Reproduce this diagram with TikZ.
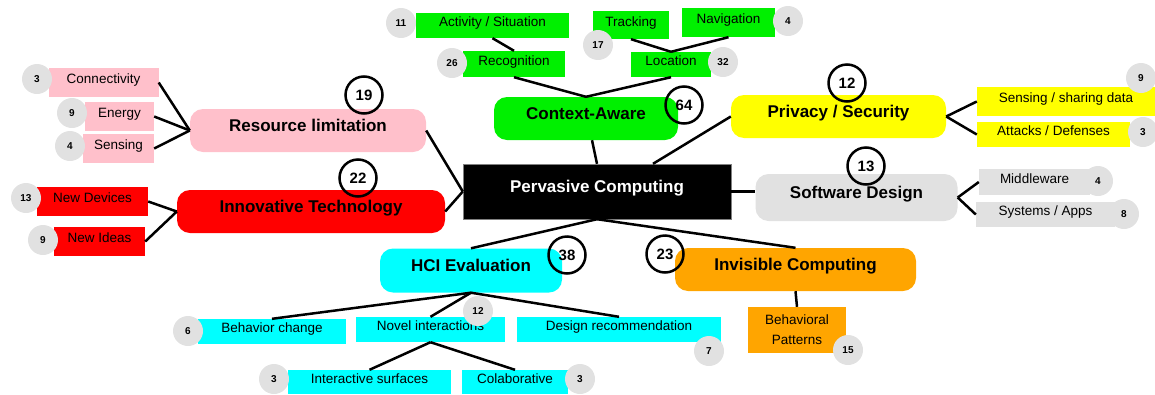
\documentclass[tikz,border=0pt]{standalone}
\usepackage{fontspec}
\setmainfont{Liberation Sans}
\usepackage{tikz}
\usetikzlibrary{calc}

\definecolor{pinkc}{RGB}{255,192,203}
\definecolor{redc}{RGB}{255,0,0}
\definecolor{greenc}{RGB}{0,240,0}
\definecolor{yellowc}{RGB}{255,255,0}
\definecolor{greyc}{RGB}{225,225,225}
\definecolor{cyanc}{RGB}{0,255,255}
\definecolor{orangec}{RGB}{255,165,0}

\tikzset{
  topic/.style={rounded corners=13pt, inner sep=0pt, text height=12pt, text depth=10pt, font=\fontsize{17}{20}\selectfont\bfseries},
  leaf/.style={inner sep=0pt, text height=10pt, text depth=8pt, font=\fontsize{13.5}{16}\selectfont},
  cnt/.style={circle, fill=greyc, minimum size=30pt, inner sep=0pt, font=\fontsize{10}{12}\selectfont\bfseries},
  badge/.style={circle, draw, line width=2.5pt, minimum size=37pt, inner sep=0pt, font=\fontsize{15}{17}\selectfont\bfseries},
  link/.style={line width=2.5pt}
}

\begin{document}
\begin{tikzpicture}[x=1pt,y=-1pt]
	\useasboundingbox (0,0) rectangle (1155,394);

	% main topics
	\node (pc)[fill=black, draw=gray, text=white, inner sep=0pt, text height=12pt, text depth=10pt, minimum width=268pt, minimum height=55pt, font=\fontsize{17}{20}\selectfont\bfseries] at (597,191.5) {Pervasive Computing};
	\node (res)[topic, fill=pinkc, minimum width=236pt, minimum height=43pt] at (308,130.5) {Resource limitation};
	\node (innov)[topic, fill=redc, minimum width=268pt, minimum height=43pt] at (311,211.5) {Innovative Technology};
	\node (ctx)[topic, fill=greenc, minimum width=184pt, minimum height=43pt] at (586,118.5) {Context-Aware};
	\node (priv)[topic, fill=yellowc, minimum width=215pt, minimum height=43pt] at (838.5,116.5) {Privacy / Security};
	\node (sw)[topic, fill=greyc, minimum width=202pt, minimum height=47pt] at (856.5,197.5) {Software Design};
	\node (hci)[topic, fill=cyanc, minimum width=182pt, minimum height=44pt] at (471,270.5) {HCI Evaluation};
	\node (inv)[topic, fill=orangec, minimum width=241pt, minimum height=43pt] at (795.5,269.5) {Invisible Computing};

	% sub topics
	\node (conn)[leaf, fill=pinkc, minimum width=110pt, minimum height=29pt] at (103.5,82.5) {Connectivity};
	\node (ener)[leaf, fill=pinkc, minimum width=69pt, minimum height=29pt] at (119.5,116.5) {Energy};
	\node (sens)[leaf, fill=pinkc, minimum width=71pt, minimum height=29pt] at (118.5,148.5) {Sensing};
	\node (ndev)[leaf, fill=redc, minimum width=111pt, minimum height=29pt] at (92.5,201.5) {New Devices};
	\node (nid)[leaf, fill=redc, minimum width=91pt, minimum height=29pt] at (99.5,241.5) {New Ideas};

	\node (act)[leaf, fill=greenc, minimum width=153pt, minimum height=25pt] at (492.5,25.5) {Activity / Situation};
	\node (rec)[leaf, fill=greenc, minimum width=102pt, minimum height=26pt] at (514,64) {Recognition};
	\node (trk)[leaf, fill=greenc, minimum width=76pt, minimum height=28pt] at (631,25) {Tracking};
	\node (nav)[leaf, fill=greenc, minimum width=93pt, minimum height=29pt] at (728.5,22.5) {Navigation};
	\node (loc)[leaf, fill=greenc, minimum width=80pt, minimum height=25pt] at (671,64.5) {Location};

	\node (ssd)[leaf, fill=yellowc, minimum width=178pt, minimum height=29pt] at (1066,101.5) {Sensing / sharing data};
	\node (att)[leaf, fill=yellowc, minimum width=153pt, minimum height=25pt] at (1053.5,134.5) {Attacks / Defenses};
	\node (mid)[leaf, fill=greyc, minimum width=111pt, minimum height=26pt] at (1034.5,182) {Middleware};
	\node (sys)[leaf, fill=greyc, minimum width=139pt, minimum height=25pt] at (1045.5,214.5) {Systems / Apps};

	\node (beh)[leaf, fill=cyanc, minimum width=148pt, minimum height=25pt] at (272,331.5) {Behavior change};
	\node (nov)[leaf, fill=cyanc, minimum width=149pt, minimum height=25pt] at (430.5,329.5) {Novel interactions};
	\node (des)[leaf, fill=cyanc, minimum width=204pt, minimum height=25pt] at (619,329.5) {Design recommendation};
	\node (ints)[leaf, fill=cyanc, minimum width=163pt, minimum height=24pt] at (369.5,382) {Interactive surfaces};
	\node (col)[leaf, fill=cyanc, minimum width=106pt, minimum height=24pt] at (515,382) {Colaborative};
	\node (bp)[fill=orangec, inner sep=0pt, minimum width=98pt, minimum height=46pt, align=center, font=\fontsize{13.5}{16}\selectfont] at (797,330) {Behavioral\\[4pt]Patterns};

	% connectors
	\draw [link] (conn.east) -- (res.west);
	\draw [link] (ener.east) -- (res.west);
	\draw [link] (sens.east) -- (res.west);
	\draw [link] (ndev.east) -- (innov.west);
	\draw [link] (nid.east) -- (innov.west);
	\draw [link] (res.east) -- (pc.west);
	\draw [link] (innov.east) -- (pc.west);

	\draw [link] (act.south) -- (rec.north);
	\draw [link] (rec.south) -- (ctx.north);
	\draw [link] (trk.south) -- (loc.north);
	\draw [link] (nav.south) -- (loc.north);
	\draw [link] (loc.south) -- (ctx.north);
	\draw [link] ([xshift=6pt]ctx.south) -- (pc.north);

	\draw [link] (priv.west) -- ([xshift=56pt]pc.north);
	\draw [link] (priv.east) -- (ssd.west);
	\draw [link] (priv.east) -- (att.west);
	\draw [link] (pc.east) -- (pc.east -| sw.west);
	\draw [link] (sw.east) -- (mid.west);
	\draw [link] (sw.east) -- (sys.west);

	\draw [link] (pc.south) -- (hci.north);
	\draw [link] (pc.south) -- (inv.north);
	\draw [link] (inv.south) -- (bp.north);
	\draw [link] (hci.south) -- (beh.north);
	\draw [link] (hci.south) -- (nov.north);
	\draw [link] (hci.south) -- (des.north);
	\draw [link] (nov.south) -- (ints.north);
	\draw [link] (nov.south) -- (col.north);

	% counts
	\node (c1)[cnt] at (37,79) {3};
	\node (c2)[cnt] at (72,113) {9};
	\node (c3)[cnt] at (70,146) {4};
	\node (c4)[cnt] at (26,198) {13};
	\node (c5)[cnt] at (43,240) {9};
	\node (c6)[cnt] at (401,23) {11};
	\node (c7)[cnt] at (452,63) {26};
	\node (c8)[cnt] at (598,45) {17};
	\node (c9)[cnt] at (788,21) {4};
	\node (c10)[cnt] at (723,62) {32};
	\node (c11)[cnt] at (1141,78) {9};
	\node (c12)[cnt] at (1143,132) {3};
	\node (c13)[cnt] at (1098,181) {4};
	\node (c14)[cnt] at (1124,214) {8};
	\node (c15)[cnt] at (188,331) {6};
	\node (c16)[cnt] at (478,311) {12};
	\node (c17)[cnt] at (709,351) {7};
	\node (c18)[cnt] at (274,379) {3};
	\node (c19)[cnt] at (580,379) {3};
	\node (c20)[cnt] at (848,350) {15};

	\node (b1)[badge] at (364,95) {19};
	\node (b2)[badge] at (358,178) {22};
	\node (b3)[badge] at (684,105) {64};
	\node (b4)[badge] at (847,83) {12};
	\node (b5)[badge] at (866,166) {13};
	\node (b6)[badge] at (567,255) {38};
	\node (b7)[badge] at (665,254) {23};
\end{tikzpicture}
\end{document}
